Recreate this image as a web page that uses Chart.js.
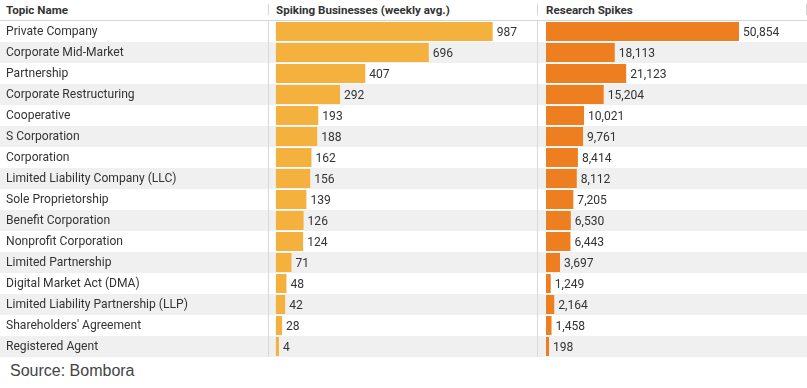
<!DOCTYPE html>
<html>
<head>
<meta charset="utf-8">
<script src="https://cdn.jsdelivr.net/npm/chart.js@4.4.0/dist/chart.umd.min.js"></script>
<style>
  body { margin:0; background:#fff; font-family:Roboto, sans-serif; }
  #wrap { position:relative; width:807px; height:388px; overflow:hidden; }
  .hdr { position:absolute; top:0; height:20px; line-height:20px; font-weight:bold; font-size:11.6px; color:#333; white-space:nowrap; }
  #hline { position:absolute; left:0; top:20px; width:807px; height:1px; background:#d6d6d6; }
  .hsep { position:absolute; top:4px; width:1px; height:11px; background:#d6d6d6; }
  canvas { position:absolute; top:0; }
  #source { position:absolute; left:10px; top:362px; font-family:"Liberation Sans", Arial, sans-serif; font-size:16px; color:#444; }
</style>
</head>
<body>
<div id="wrap">
  <div class="hdr" style="left:6px">Topic Name</div>
  <div class="hdr" style="left:276px">Spiking Businesses (weekly avg.)</div>
  <div class="hdr" style="left:546px">Research Spikes</div>
  <div class="hsep" style="left:268px"></div>
  <div class="hsep" style="left:537px"></div>
  <div class="hsep" style="left:806px"></div>
  <div id="hline"></div>
  <canvas id="spikeChart" width="537" height="357" style="left:0"></canvas>
  <canvas id="researchChart" width="270" height="357" style="left:537px"></canvas>
  <div id="source">Source: Bombora</div>
</div>
<script>
const topics = ['Private Company','Corporate Mid-Market','Partnership','Corporate Restructuring','Cooperative','S Corporation','Corporation','Limited Liability Company (LLC)','Sole Proprietorship','Benefit Corporation','Nonprofit Corporation','Limited Partnership','Digital Market Act (DMA)','Limited Liability Partnership (LLP)',"Shareholders' Agreement",'Registered Agent'];
const spikingBusinesses = [987,696,407,292,193,188,162,156,139,126,124,71,48,42,28,4];
const researchSpikes = [50854,18113,21123,15204,10021,9761,8414,8112,7205,6530,6443,3697,1249,2164,1458,198];

const rowBg = '#eff0ef', sepColor = '#d9d9d9', textColor = '#333';

// striped rows + left column separator
const rowsPlugin = {
  id:'rows',
  beforeDraw(chart, args, opts) {
    const {ctx} = chart, y = chart.scales.y;
    const h = y.getPixelForValue(1) - y.getPixelForValue(0);
    ctx.save();
    topics.forEach((t,i)=>{
      if(i%2===1){ ctx.fillStyle=rowBg; ctx.fillRect(0, y.getPixelForValue(i)-h/2, chart.width, h); }
    });
    ctx.fillStyle=sepColor;
    ctx.fillRect(opts.sepX, chart.chartArea.top, 1, chart.chartArea.bottom-chart.chartArea.top);
    ctx.restore();
  }
};
const valuesPlugin = {
  id:'values',
  afterDatasetsDraw(chart) {
    const {ctx} = chart;
    ctx.save();
    ctx.font = '12.1px Roboto'; ctx.fillStyle = textColor; ctx.textBaseline='middle'; ctx.textAlign='left';
    chart.getDatasetMeta(0).data.forEach((bar,i)=>{
      ctx.fillText(chart.data.datasets[0].data[i].toLocaleString('en-US'), bar.x+4, bar.y+1.5);
    });
    ctx.restore();
  }
};

function makeChart(id, values, color, xMin, xMax, showLabels, sepX) {
  return new Chart(document.getElementById(id), {
    type:'bar',
    data:{ labels:topics, datasets:[{ data:values, backgroundColor:color, categoryPercentage:1, barPercentage:0.905, minBarLength:3 }] },
    options:{
      indexAxis:'y', responsive:false, animation:false, devicePixelRatio:1,
      layout:{ padding:{ left:showLabels?6:0, top:21, right:0, bottom:0 } },
      plugins:{ legend:{display:false}, tooltip:{enabled:false}, rows:{sepX} },
      scales:{
        x:{ display:false, min:xMin, max:xMax },
        y:{
          display:showLabels,
          grid:{display:false}, border:{display:false},
          ticks:{ color:textColor, font:{family:'Roboto', size:12.1}, crossAlign:'far', padding:0, labelOffset:0.5 },
          afterFit: s => { if(showLabels) s.width = 262; s.paddingTop = 0; s.paddingBottom = 0; }
        }
      }
    },
    plugins:[rowsPlugin, valuesPlugin]
  });
}

makeChart('spikeChart', spikingBusinesses, '#f4b13d', -36, 1189, true, 268);
makeChart('researchChart', researchSpikes, '#ee7f21', -2371, 68772, false, 0);
</script>
</body>
</html>
